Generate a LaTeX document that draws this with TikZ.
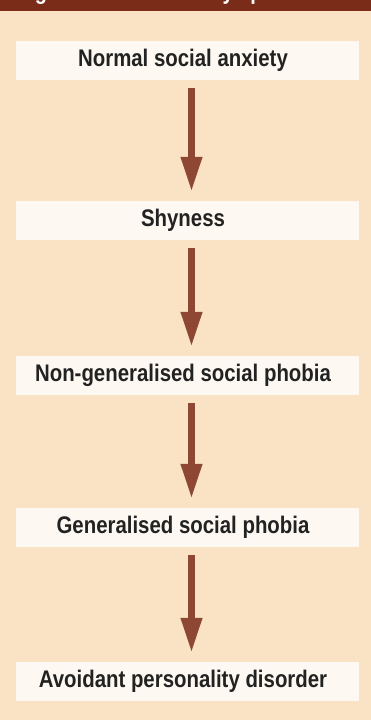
\documentclass[tikz,border=0pt]{standalone}
\usepackage{fontspec}
\setmainfont{Liberation Sans}[FakeStretch=0.85]
\usetikzlibrary{arrows.meta}
\definecolor{band}{HTML}{7A2C18}
\definecolor{bg}{HTML}{FAE3C4}
\definecolor{boxfill}{HTML}{FDF9F2}
\definecolor{arr}{HTML}{8E4733}
\definecolor{txt}{HTML}{222222}
\begin{document}
\begin{tikzpicture}[x=1pt,y=-1pt,
  stage/.style={rectangle, fill=boxfill, minimum width=343pt, minimum height=39pt,
    inner sep=0pt, text=txt, font=\bfseries\fontsize{24}{26}\selectfont},
  flow/.style={draw=arr, line width=7pt,
    -{Triangle[width=20pt,length=35pt]}, shorten <=8pt, shorten >=9pt}]
\useasboundingbox (0,0) rectangle (371,720);
\fill[bg] (0,0) rectangle (371,720);
\fill[band] (0,0) rectangle (371,11);
\begin{scope}
\clip (0,0) rectangle (371,11);
\node[anchor=base west, inner sep=0pt, text=white, font=\bfseries\fontsize{23.5}{26}\selectfont] (title) at (17,0) {Figure 1 Social anxiety spectrum};
\end{scope}
\node[stage] (s1) at (187.5,60.5) {\hspace*{-9pt}Normal social anxiety};
\node[stage] (s2) at (187.5,220.5) {\hspace*{-9pt}Shyness};
\node[stage] (s3) at (187.5,375.5) {\hspace*{-9pt}Non-generalised social phobia};
\node[stage] (s4) at (187.5,527.5) {\hspace*{-9pt}Generalised social phobia};
\node[stage] (s5) at (187.5,681.5) {\hspace*{-9pt}Avoidant personality disorder};
\draw[flow] ([xshift=4pt]s1.south) -- ([xshift=4pt]s2.north);
\draw[flow] ([xshift=4pt]s2.south) -- ([xshift=4pt]s3.north);
\draw[flow] ([xshift=4pt]s3.south) -- ([xshift=4pt]s4.north);
\draw[flow] ([xshift=4pt]s4.south) -- ([xshift=4pt]s5.north);
\end{tikzpicture}
\end{document}
